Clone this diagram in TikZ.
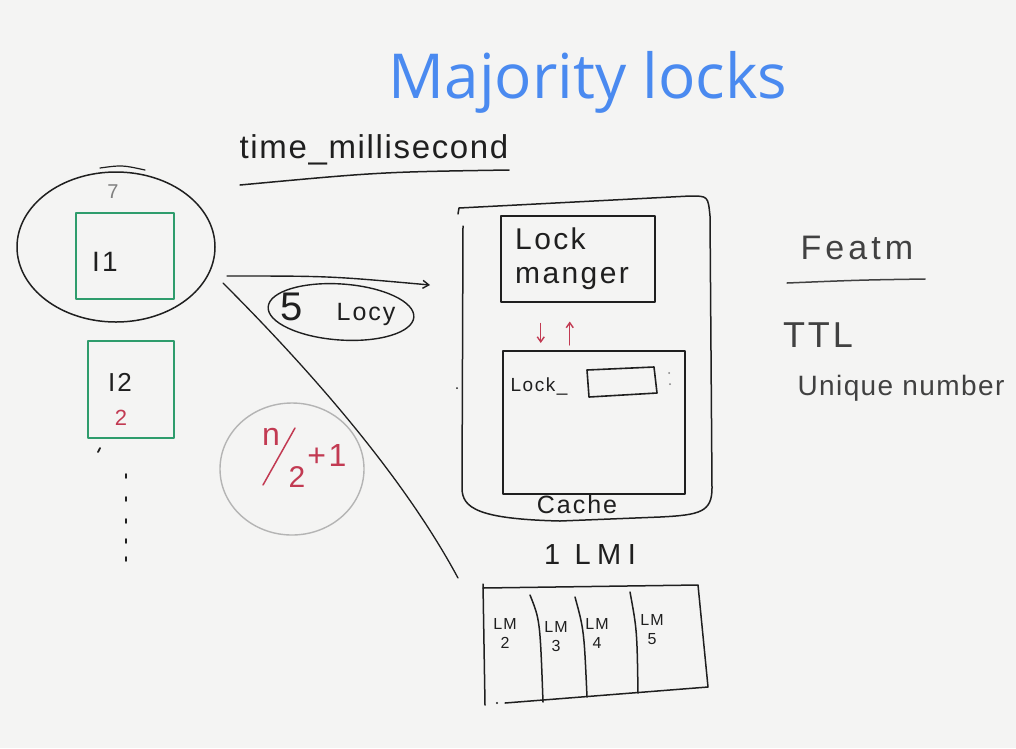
\documentclass[tikz,border=0pt]{standalone}
\usepackage{fontspec}
\setmainfont{Liberation Sans}
\newfontfamily\titlefont{Open Sans}
\newfontfamily\hand{Liberation Sans}[LetterSpace=8]
\usetikzlibrary{shapes.geometric,arrows.meta}
\definecolor{board}{HTML}{F4F4F3}
\definecolor{ink}{HTML}{1F1F1F}
\definecolor{mkgreen}{HTML}{2E9C6C}
\definecolor{mkred}{HTML}{C23A52}
\definecolor{mkgray}{HTML}{B4B4B4}
\definecolor{titleblue}{HTML}{4A8AF0}
\newcommand{\fs}[1]{\fontsize{#1}{#1}\selectfont}
\tikzset{
  pen/.style={draw=ink, line width=1.5pt, line cap=round, line join=round},
  greenpen/.style={draw=mkgreen, line width=1.7pt},
  redpen/.style={draw=mkred, line width=1.4pt, line cap=round, -{Straight Barb[length=5pt,width=7pt]}},
  txt/.style={text=ink, inner sep=0pt, font=\hand},
  box/.style={pen, rectangle, inner sep=0pt, anchor=north west},
}
\begin{document}
\begin{tikzpicture}[x=1pt,y=-1pt]
\fill[board] (0,0) rectangle (1016,748);
\useasboundingbox (0,0) rectangle (1016,748);

% title
\node[text=titleblue, inner sep=0pt] (title) at (588,82) {\titlefont\fs{62}Majority locks};

% key label
\node[txt] (tms) at (374,150) {\hand\addfontfeature{LetterSpace=5}\fs{33}time\_millisecond};
\draw[pen] (240,185) .. controls (380,172) .. (509,170);

% instances
\node[pen, ellipse, minimum width=198pt, minimum height=150pt] (grp) at (116,247) {};
\draw[pen, line width=1.2pt] (100,168) .. controls (122,165) .. (145,170);
\node[text=gray, inner sep=0pt, font=\hand] (seven) at (113,192) {\fs{20}7};
\node[box, greenpen, minimum width=98pt, minimum height=86pt] (i1) at (75,212) {};
\node[txt] (i1l) at (105,262) {\fs{28}I1};
\node[box, greenpen, minimum width=86pt, minimum height=97pt] (i2) at (87,340) {};
\node[txt] (i2l) at (120,382) {\fs{26}I2};
\node[text=mkred, inner sep=0pt, font=\hand] (i2n) at (121,418) {\fs{22}2};
\foreach \y in {474,497,519,539,557}
  \draw[pen, line width=1.8pt] (126,\y) -- (126,\y+4);
\draw[pen, line width=1.8pt] (100,448) -- (98,452);

% request arrow
\coordinate (arrS) at (227,276);
\coordinate (arrE) at (430,285);
\draw[pen, line width=1.4pt, -{Straight Barb[length=6pt,width=8pt]}] (arrS) .. controls (330,276) .. (arrE);
\node[pen, line width=1.4pt, ellipse, minimum width=146pt, minimum height=56pt, rotate=-4] (locks) at (341,312) {};
\node[txt] (five) at (292,307) {\fs{40}5};
\node[txt] (locy) at (366,314) {\fs{25}Locy};

% diagonal stroke
\coordinate (dS) at (223,283);
\coordinate (dE) at (458,578);
\draw[pen, line width=1.3pt] (dS) .. controls (300,360) and (400,470) .. (dE);

% quorum
\node[draw=mkgray, line width=1.4pt, ellipse, minimum width=144pt, minimum height=132pt] (quorum) at (292,469) {};
\node[text=mkred, inner sep=0pt, font=\hand] (qn) at (271,437) {\fs{32}n};
\draw[mkred, line width=1.5pt, line cap=round] (263,485) -- (295,428);
\node[text=mkred, inner sep=0pt, font=\hand] (q2) at (297,477) {\fs{30}2};
\node[text=mkred, inner sep=0pt, font=\hand] (qp) at (327,455) {\fs{32}+1};

% cache
\draw[pen] (458,214) -- (459,208) -- (690,196) .. controls (708,196) .. (710,216)
  -- (712,488) .. controls (712,512) and (700,515) .. (660,517)
  -- (560,521) .. controls (478,519) and (462,508) .. (462,488) -- (463,226);
\node[box, minimum width=154pt, minimum height=86pt] (lm) at (500,215) {};
\node[txt, align=left, anchor=west, font={\hand\fs{30}}] (lml) at (515,259) {Lock\\[4pt]manger};
\node[box, minimum width=182pt, minimum height=143pt] (store) at (502,350) {};
\draw[redpen] ([xshift=-37pt,yshift=-21pt]lm.south) -- ([xshift=-53pt,yshift=7pt]store.north);
\draw[redpen] ([xshift=-24pt,yshift=5pt]store.north) -- ([xshift=-8pt,yshift=-19pt]lm.south);
\node[txt] (lockw) at (539,386) {\fs{19}Lock\_};
\draw[pen, line width=1.6pt] (587,370) -- (654,367) -- (657,393) -- (589,397) -- cycle;
\fill[gray] (669,373) circle (1pt) (670,384) circle (1pt);
\fill[ink] (457,388) circle (1pt);
\node[txt] (cache) at (577,505) {\fs{25}Cache};

% lock managers
\node[txt] (lmi) at (590,555) {\hand\addfontfeature{LetterSpace=22}\fs{29}1 LMI};
\draw[pen] (483,588) -- (698,585) -- (708,687) -- (505,703);
\draw[pen] (483,584) -- (485,705);
\fill[ink] (497,703) circle (1.2pt);
\draw[pen] (530,595) .. controls (540,620) .. (543,702);
\draw[pen] (575,597) .. controls (584,630) .. (587,697);
\draw[pen] (630,592) .. controls (637,630) .. (638,693);
\node[txt, align=center, font={\hand\fs{16}}] (lm2) at (505,633) {LM\\[3pt]2};
\node[txt, align=center, font={\hand\fs{16}}] (lm3) at (556,637) {LM\\[3pt]3};
\node[txt, align=center, font={\hand\fs{16}}] (lm4) at (597,633) {LM\\[3pt]4};
\node[txt, align=center, font={\hand\fs{16}}] (lm5) at (652,630) {LM\\[3pt]5};

% features
\node[txt, text=ink!85] (feat) at (857,248) {\hand\addfontfeature{LetterSpace=12}\fs{34}Featm};
\draw[pen, draw=ink!85] (787,283) .. controls (860,280) .. (925,279);
\node[txt, text=ink!85] (ttl) at (818,335) {\fs{36}TTL};
\node[txt, text=ink!85] (uniq) at (901,388) {\hand\addfontfeature{LetterSpace=5}\fs{28}Unique number};
\end{tikzpicture}
\end{document}
